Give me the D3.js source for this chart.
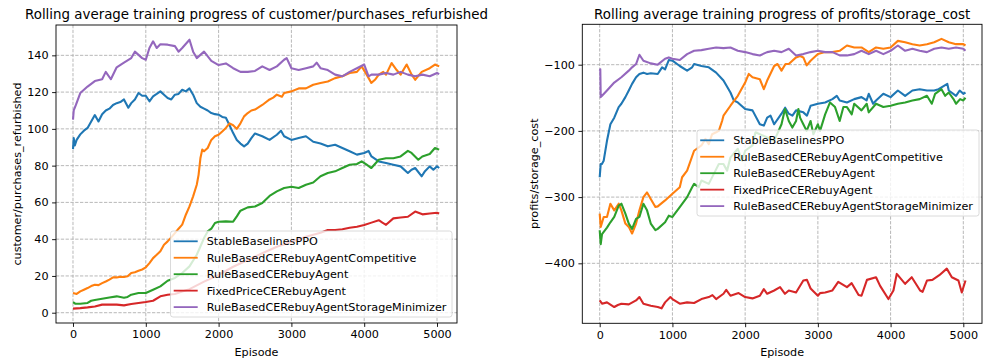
<!DOCTYPE html>
<html>
<head>
<meta charset="utf-8">
<script src="https://cdn.jsdelivr.net/npm/d3@7"></script>
<style>
  body { margin: 0; background: #fff; }
  svg { display: block; }
  text { font-family: 'DejaVu Sans', sans-serif; fill: #000; }
</style>
</head>
<body>
<svg id="fig" width="984" height="363"></svg>
<script>
// ---- series labels and colours ----
const agentNames = [
  "StableBaselinesPPO",
  "RuleBasedCERebuyAgentCompetitive",
  "RuleBasedCERebuyAgent",
  "FixedPriceCERebuyAgent",
  "RuleBasedCERebuyAgentStorageMinimizer"
];
const agentColors = ["#1f77b4", "#ff7f0e", "#2ca02c", "#d62728", "#9467bd"];

const xTickValues = [0, 1000, 2000, 3000, 4000, 5000];
const refurbTickValues = [0, 20, 40, 60, 80, 100, 120, 140];
const storageTickValues = [-400, -300, -200, -100];

// ---- customer/purchases_refurbished: [episode, rolling mean] ----
const refurbPPO = [[0,89],[10,95],[25,91],[50,94],[100,97],[150,99],[200,100.5],[250,104],[300,107.5],[350,104],[400,108],[450,110],[500,111],[550,113],[600,114],[650,114.6],[700,116],[760,111.5],[800,114],[850,116],[900,119.5],[950,118],[1000,118],[1050,115],[1100,117.7],[1150,119],[1200,120.4],[1250,118.6],[1300,116.8],[1350,116],[1400,118.6],[1450,119],[1500,121.3],[1550,120.4],[1600,122],[1650,118.6],[1700,114],[1750,112],[1800,111],[1850,110],[1900,108.6],[1950,108],[2000,107.7],[2050,106.5],[2100,106],[2150,102],[2200,97.7],[2250,94],[2300,92],[2350,90.5],[2400,92],[2450,95],[2500,97.5],[2600,96],[2700,94],[2800,96.8],[2857,99],[2900,96],[3000,94],[3100,95],[3200,96],[3300,93],[3400,92],[3500,90.5],[3600,91.4],[3700,89.6],[3800,87.8],[3900,86],[4000,86.9],[4060,88],[4100,85],[4200,82.3],[4300,81.4],[4400,80.5],[4500,79.6],[4600,76],[4650,77.8],[4700,78.7],[4790,74.2],[4835,77],[4900,79.6],[4950,77.8],[5000,79.6],[5030,78.7]];
const refurbCompetitive = [[0,10.7],[50,10.2],[100,11.6],[150,12.5],[200,13.4],[250,14.5],[300,15.2],[350,15],[400,16.1],[450,17],[500,18],[550,19.2],[600,19.2],[650,19.6],[700,19.4],[750,19.8],[800,21.6],[850,22],[900,22.8],[950,23.5],[1000,24.7],[1050,27],[1100,29.7],[1150,31.5],[1200,33.4],[1250,37],[1300,38.8],[1350,41],[1400,43.3],[1450,45.7],[1500,47.9],[1550,53.3],[1600,57.8],[1650,63.3],[1700,69.6],[1725,75],[1750,84],[1775,88.7],[1800,87.8],[1850,89.6],[1900,94],[1950,96],[2000,96.8],[2050,98.6],[2100,100.5],[2150,103],[2200,102],[2250,100],[2300,103],[2350,106.8],[2400,108.6],[2450,110],[2500,110.5],[2600,113],[2700,116],[2750,117],[2800,118.6],[2870,117.5],[2900,119.5],[3000,120.4],[3100,122],[3200,122],[3300,124],[3400,125],[3500,125.8],[3600,127.6],[3700,128.6],[3800,130.4],[3900,131],[3965,134],[4034,129.5],[4098,125],[4148,126.7],[4200,129.5],[4262,131],[4300,129.5],[4377,135.8],[4446,132],[4500,129.5],[4583,135],[4652,129.5],[4700,126.7],[4790,131],[4900,133],[4972,135],[5030,134]];
const refurbRuleBased = [[0,5.8],[30,4.9],[100,4.9],[200,5.3],[250,6.5],[300,6.9],[400,7.6],[500,8.3],[600,8.9],[700,8.1],[750,8.6],[800,9.8],[900,10.7],[1000,10.7],[1100,12.5],[1200,14.3],[1300,17.4],[1400,18.9],[1500,21.6],[1600,25.2],[1700,31.5],[1750,36],[1800,40.6],[1850,44.2],[1900,45.7],[1950,48.8],[2000,49.5],[2100,49.7],[2200,49.5],[2250,52.4],[2300,55.5],[2400,57.3],[2500,57.8],[2600,59.7],[2700,63.5],[2800,66],[2900,67.8],[3000,68.5],[3100,67.8],[3200,69.6],[3300,70.8],[3400,74.2],[3500,76],[3600,76.9],[3700,78.7],[3800,80.5],[3900,80.9],[3965,82.3],[4034,80.5],[4098,78.7],[4200,83.2],[4300,84],[4400,84],[4500,85],[4600,88],[4650,86.9],[4743,83.2],[4798,85],[4900,86.3],[4972,89.6],[5030,88.7]];
const refurbFixedPrice = [[0,2.2],[100,2.5],[200,2.9],[300,3.4],[400,4.4],[500,4.4],[600,4.4],[700,4],[800,4.7],[900,5.3],[1000,5.8],[1100,6.5],[1200,8.9],[1300,9.8],[1400,10.2],[1500,11.5],[1600,12.8],[1800,16.9],[2000,20.5],[2200,25],[2400,28.7],[2600,32.3],[2800,35.9],[3000,38.6],[3200,41.3],[3400,43.5],[3500,45],[3600,45],[3700,45.4],[3800,46.2],[3900,46.8],[4000,47.7],[4100,49],[4200,50.3],[4250,49],[4300,47.8],[4400,51.3],[4500,51.8],[4600,52.2],[4700,55],[4800,53.5],[4900,54],[5000,54.4],[5030,54]];
const refurbStorageMin = [[0,105],[10,110],[40,113],[100,119.5],[200,123],[300,126],[400,127],[450,131],[520,127],[600,133.5],[700,136],[800,138.5],[850,142],[950,138.5],[1000,137.6],[1050,144],[1100,147.6],[1150,144],[1200,146],[1300,145.8],[1400,145],[1450,142],[1500,144],[1600,148.5],[1650,142],[1700,138.5],[1800,142],[1900,137],[2000,134.7],[2100,135.6],[2200,133],[2300,131],[2400,131],[2500,131.5],[2600,134],[2700,132],[2800,134],[2900,137.6],[2935,138.5],[3000,133],[3100,132],[3200,133],[3300,134],[3347,136],[3400,133],[3500,132],[3600,129.5],[3700,128.6],[3800,131],[3900,133],[4000,135],[4060,128.6],[4100,129.5],[4200,129.5],[4300,130.4],[4400,129.5],[4500,131],[4600,129.5],[4700,128.6],[4800,129.5],[4900,128.6],[5000,130.4],[5030,129.8]];

// ---- profits/storage_cost: [episode, rolling mean] ----
const storagePPO = [[0,-270],[14,-250],[30,-250],[55,-245],[100,-215],[147,-190],[200,-180],[261,-164],[298,-159],[353,-149],[400,-139],[445,-129],[500,-119],[546,-114],[601,-112],[651,-114],[702,-113],[798,-114],[858,-104],[899,-107],[950,-93],[1000,-94],[1101,-102],[1202,-109],[1271,-104],[1298,-99],[1399,-102],[1500,-104],[1601,-112],[1702,-124],[1798,-142],[1844,-154],[1899,-157],[2000,-167],[2101,-169],[2202,-190],[2257,-192],[2303,-180],[2349,-177],[2399,-190],[2500,-174],[2550,-165],[2600,-174],[2650,-177],[2700,-169],[2800,-172],[2850,-177],[2900,-162],[3000,-159],[3100,-157],[3200,-152],[3260,-147],[3300,-154],[3400,-157],[3500,-152],[3600,-149],[3670,-154],[3700,-144],[3760,-159],[3800,-154],[3900,-144],[4000,-149],[4100,-139],[4200,-147],[4300,-139],[4400,-137],[4500,-139],[4600,-139],[4660,-137],[4780,-129],[4800,-139],[4900,-147],[4950,-139],[5000,-144],[5030,-142]];
const storageCompetitive = [[0,-325],[14,-345],[55,-330],[100,-330],[147,-310],[200,-320],[261,-310],[298,-320],[353,-340],[400,-345],[445,-355],[500,-340],[546,-320],[601,-300],[651,-293],[702,-303],[766,-315],[798,-314],[899,-305],[1000,-295],[1101,-285],[1133,-270],[1202,-260],[1298,-230],[1399,-222],[1454,-212],[1500,-220],[1546,-205],[1601,-202],[1638,-200],[1683,-185],[1702,-177],[1798,-162],[1899,-147],[2000,-127],[2050,-114],[2101,-119],[2202,-122],[2257,-137],[2303,-124],[2399,-102],[2445,-99],[2500,-109],[2555,-99],[2600,-99],[2649,-94],[2700,-89],[2755,-87],[2800,-89],[2846,-101],[2900,-94],[3000,-84],[3100,-81],[3200,-81],[3300,-79],[3400,-71],[3500,-74],[3600,-74],[3700,-81],[3800,-74],[3900,-76],[4000,-74],[4100,-64],[4200,-66],[4300,-69],[4400,-71],[4500,-69],[4600,-66],[4700,-61],[4800,-66],[4900,-69],[5000,-69],[5030,-71]];
const storageRuleBased = [[0,-350],[14,-371],[32,-356],[100,-346],[147,-338],[200,-330],[261,-313],[298,-310],[353,-325],[400,-340],[445,-348],[500,-333],[546,-330],[601,-310],[651,-320],[702,-340],[766,-350],[798,-348],[899,-338],[950,-328],[1000,-330],[1101,-315],[1202,-300],[1271,-285],[1298,-280],[1362,-285],[1399,-275],[1500,-280],[1592,-260],[1638,-250],[1702,-250],[1752,-260],[1798,-240],[1899,-227],[1959,-245],[2000,-230],[2101,-222],[2142,-202],[2202,-205],[2303,-210],[2399,-215],[2500,-190],[2548,-167],[2600,-185],[2649,-195],[2700,-185],[2732,-167],[2755,-180],[2800,-190],[2846,-200],[2900,-185],[2938,-205],[3000,-190],[3030,-200],[3100,-175],[3167,-157],[3236,-164],[3300,-185],[3351,-164],[3400,-164],[3466,-175],[3500,-159],[3600,-169],[3672,-159],[3699,-172],[3800,-159],[3900,-164],[4000,-162],[4100,-159],[4200,-157],[4300,-154],[4400,-152],[4500,-147],[4567,-159],[4612,-144],[4700,-137],[4750,-147],[4800,-142],[4865,-152],[4900,-159],[4956,-152],[5000,-154],[5030,-150]];
const storageFixedPrice = [[0,-456],[32,-461],[100,-459],[200,-466],[250,-463],[298,-461],[400,-462],[500,-456],[546,-451],[601,-461],[702,-464],[798,-466],[850,-468],[899,-459],[972,-451],[1000,-454],[1101,-461],[1202,-459],[1298,-460],[1399,-454],[1500,-451],[1550,-448],[1601,-454],[1702,-446],[1740,-440],[1798,-449],[1910,-445],[2000,-451],[2100,-453],[2202,-449],[2257,-439],[2303,-446],[2399,-441],[2480,-436],[2548,-446],[2600,-441],[2700,-444],[2800,-426],[2850,-425],[2900,-438],[3000,-449],[3030,-445],[3100,-444],[3200,-441],[3280,-428],[3400,-436],[3465,-430],[3560,-448],[3600,-449],[3675,-425],[3800,-421],[3856,-434],[3970,-454],[4039,-441],[4085,-416],[4200,-431],[4291,-421],[4406,-441],[4440,-443],[4500,-426],[4575,-425],[4670,-418],[4773,-408],[4842,-421],[4933,-426],[4979,-444],[5030,-426]];
const storageStorageMin = [[0,-109],[8,-107],[14,-149],[32,-147],[100,-139],[200,-127],[298,-119],[400,-109],[445,-104],[500,-99],[546,-85],[601,-94],[702,-98],[798,-100],[899,-91],[950,-89],[1000,-91],[1101,-93],[1202,-84],[1298,-79],[1399,-78],[1500,-76],[1601,-74],[1702,-75],[1798,-74],[1899,-79],[2000,-81],[2101,-84],[2202,-86],[2303,-81],[2399,-79],[2500,-81],[2600,-76],[2700,-86],[2800,-84],[2900,-81],[3000,-79],[3100,-81],[3200,-81],[3300,-86],[3400,-86],[3500,-84],[3600,-79],[3700,-84],[3800,-79],[3900,-84],[4000,-79],[4100,-71],[4200,-79],[4300,-76],[4400,-79],[4500,-81],[4600,-76],[4700,-74],[4800,-76],[4900,-74],[5000,-76],[5030,-79]];

// ---- panel layout ----
const panels = [
  {
    title: "Rolling average training progress of customer/purchases_refurbished",
    ylabel: "customer/purchases_refurbished",
    series: [refurbPPO, refurbCompetitive, refurbRuleBased, refurbFixedPrice, refurbStorageMin],
    yTicks: refurbTickValues,
    left: 56, right: 457, top: 25, bottom: 323,
    xDomain: [-233.5, 5274.7],
    yDomain: [-5.6, 156.5],
    ylabelX: 17,
    legend: { x: 170.5, y: 231, w: 281.5, h: 86 }
  },
  {
    title: "Rolling average training progress of profits/storage_cost",
    ylabel: "profits/storage_cost",
    series: [storagePPO, storageCompetitive, storageRuleBased, storageFixedPrice, storageStorageMin],
    yTicks: storageTickValues,
    left: 582.3, right: 982, top: 24.3, bottom: 323.3,
    xDomain: [-239.3, 5257],
    yDomain: [-490.6, -39],
    ylabelX: 534,
    legend: { x: 697, y: 130, w: 282, h: 86 }
  }
];

const svg = d3.select("#fig");
const tickFont = 11.2;

panels.forEach((p, pi) => {
  const x = d3.scaleLinear().domain(p.xDomain).range([p.left, p.right]);
  const y = d3.scaleLinear().domain(p.yDomain).range([p.bottom, p.top]);
  const g = svg.append("g");

  // clip region for the plotted lines
  const clipId = "clip" + pi;
  svg.append("clipPath").attr("id", clipId)
    .append("rect")
    .attr("x", p.left).attr("y", p.top)
    .attr("width", p.right - p.left).attr("height", p.bottom - p.top);

  // dashed grid
  const grid = g.append("g").attr("stroke", "#b0b0b0").attr("stroke-width", 0.9)
    .attr("stroke-dasharray", "3.3,1.5");
  grid.selectAll("line.gx").data(xTickValues).join("line")
    .attr("x1", d => x(d)).attr("x2", d => x(d))
    .attr("y1", p.top).attr("y2", p.bottom);
  grid.selectAll("line.gy").data(p.yTicks).join("line")
    .attr("x1", p.left).attr("x2", p.right)
    .attr("y1", d => y(d)).attr("y2", d => y(d));

  // series lines
  const line = d3.line().x(d => x(d[0])).y(d => y(d[1]));
  const lines = g.append("g").attr("clip-path", `url(#${clipId})`);
  p.series.forEach((s, i) => {
    lines.append("path").datum(s)
      .attr("fill", "none")
      .attr("stroke", agentColors[i])
      .attr("stroke-width", 2.1)
      .attr("stroke-linejoin", "round")
      .attr("d", line);
  });

  // axes
  const xAxis = d3.axisBottom(x).tickValues(xTickValues).tickSize(3.9).tickPadding(3.5).tickFormat(d3.format("d"));
  const yAxis = d3.axisLeft(y).tickValues(p.yTicks).tickSize(3.9).tickPadding(3.5).tickFormat(d3.format("d"));
  const gx = g.append("g").attr("transform", `translate(0,${p.bottom})`).call(xAxis);
  const gy = g.append("g").attr("transform", `translate(${p.left},0)`).call(yAxis);
  [gx, gy].forEach(ax => {
    ax.select(".domain").remove();
    ax.selectAll(".tick line").attr("stroke", "#000").attr("stroke-width", 0.9);
    ax.selectAll(".tick text").attr("font-size", tickFont)
      .attr("font-family", "'DejaVu Sans', sans-serif").attr("fill", "#000");
  });

  // frame
  g.append("rect")
    .attr("x", p.left).attr("y", p.top)
    .attr("width", p.right - p.left).attr("height", p.bottom - p.top)
    .attr("fill", "none").attr("stroke", "#000").attr("stroke-width", 0.9);

  // titles and axis labels
  g.append("text")
    .attr("x", (p.left + p.right) / 2).attr("y", 19)
    .attr("text-anchor", "middle").attr("font-size", 13.4)
    .text(p.title);
  g.append("text")
    .attr("x", (p.left + p.right) / 2).attr("y", 356)
    .attr("text-anchor", "middle").attr("font-size", tickFont)
    .text("Episode");
  g.append("text")
    .attr("transform", `translate(${p.ylabelX},${(p.top + p.bottom) / 2}) rotate(-90)`)
    .attr("text-anchor", "middle").attr("dy", "0.35em").attr("font-size", tickFont)
    .text(p.ylabel);

  // legend
  const L = p.legend;
  const lg = g.append("g").attr("transform", `translate(${L.x},${L.y})`);
  lg.append("rect")
    .attr("width", L.w).attr("height", L.h).attr("rx", 2.5)
    .attr("fill", "#fff").attr("fill-opacity", 0.8)
    .attr("stroke", "#cccccc").attr("stroke-opacity", 0.8).attr("stroke-width", 0.9);
  agentNames.forEach((name, i) => {
    const cy = 10.3 + i * 16.45;
    lg.append("line")
      .attr("x1", 3.2).attr("x2", 27.2).attr("y1", cy).attr("y2", cy)
      .attr("stroke", agentColors[i]).attr("stroke-width", 1.8);
    lg.append("text")
      .attr("x", 36.2).attr("y", cy).attr("dy", "0.36em")
      .attr("font-size", tickFont)
      .text(name);
  });
});
</script>
</body>
</html>
